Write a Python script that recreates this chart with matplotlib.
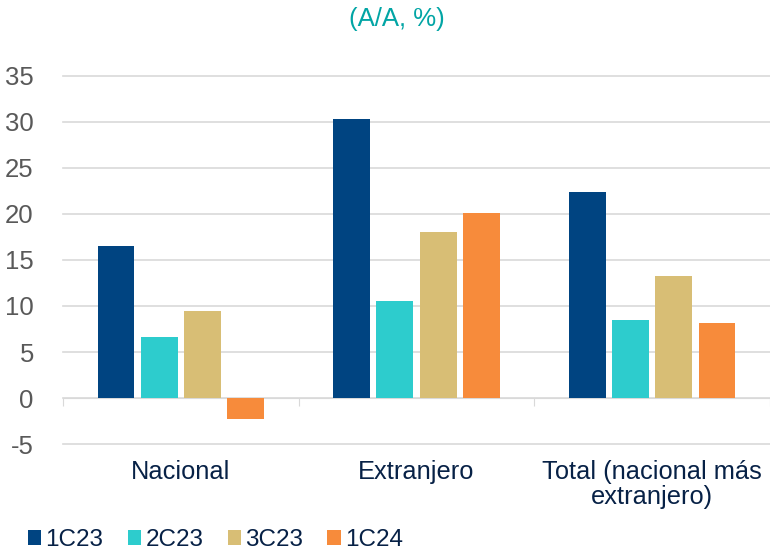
import numpy as np
import matplotlib.pyplot as plt
from matplotlib.patches import Patch
import matplotlib.transforms as mtransforms

plt.rcParams['font.family'] = ['Liberation Sans', 'DejaVu Sans']

categories = ["Nacional", "Extranjero", "Total (nacional más\nextranjero)"]
series = ["1C23", "2C23", "3C23", "1C24"]
v_1c23 = [16.5, 30.3, 22.4]
v_2c23 = [6.6, 10.5, 8.5]
v_3c23 = [9.45, 18.0, 13.3]
v_1c24 = [-2.3, 20.1, 8.2]
values = [v_1c23, v_2c23, v_3c23, v_1c24]
colors = ["#004481", "#2DCCCD", "#D8BE75", "#F78B3B"]
yticks = [-5, 0, 5, 10, 15, 20, 25, 30, 35]

fig = plt.figure(figsize=(7.7, 5.51), dpi=100)
ax = fig.add_axes([63 / 770, 1 - 444 / 551, 1 - 63 / 770, (444 - 76) / 551])

x = np.arange(len(categories))
pitch = 0.1835
width = 0.156
for i, (name, vals) in enumerate(zip(series, values)):
    ax.bar(x + (i - 1.5) * pitch, vals, width, color=colors[i], label=name, zorder=3)

ax.set_ylim(-5, 35)
ax.set_xlim(-0.5, 2.5 - 5 / 237)
ax.set_yticks(yticks)
ax.set_yticklabels([str(t) for t in yticks], fontsize=18.5, color="#595959")
ax.yaxis.grid(True, color="#D9D9D9", linewidth=1.2, zorder=0)
for gl in ax.get_ygridlines():
    gl.set_clip_on(False)
ax.tick_params(axis="y", length=0, pad=21)
for s in ["top", "right", "left"]:
    ax.spines[s].set_visible(False)
ax.spines["bottom"].set_position(("data", 0))
ax.spines["bottom"].set_color("#D9D9D9")
ax.set_xticks([-0.5, 0.5, 1.5, 2.5])
ax.set_xticklabels([])
ax.tick_params(axis="x", length=6, color="#D9D9D9", direction="out")

trans = mtransforms.blended_transform_factory(ax.transData, ax.transAxes)
for xi, cat in zip(x, categories):
    ax.text(xi, -0.043, cat, transform=trans, ha="center", va="top",
            fontsize=18.3, color="#072146", linespacing=1.05)

fig.text(0.516, 0.965, "(A/A, %)", ha="center", va="center", fontsize=18.5,
         color="#02A5A5", family=["Liberation Sans Narrow", "Liberation Sans"])

handles = [Patch(facecolor=c, label=s) for c, s in zip(colors, series)]
fig.legend(handles=handles, loc="center left", bbox_to_anchor=(28 / 770, 1 - 540 / 551),
           ncol=4, frameon=False, fontsize=17.5, handlelength=0.55, handleheight=0.55,
           handletextpad=0.17, columnspacing=1.0, borderpad=0, borderaxespad=0,
           labelcolor="#072146")

fig.savefig("out.png", dpi=100)
